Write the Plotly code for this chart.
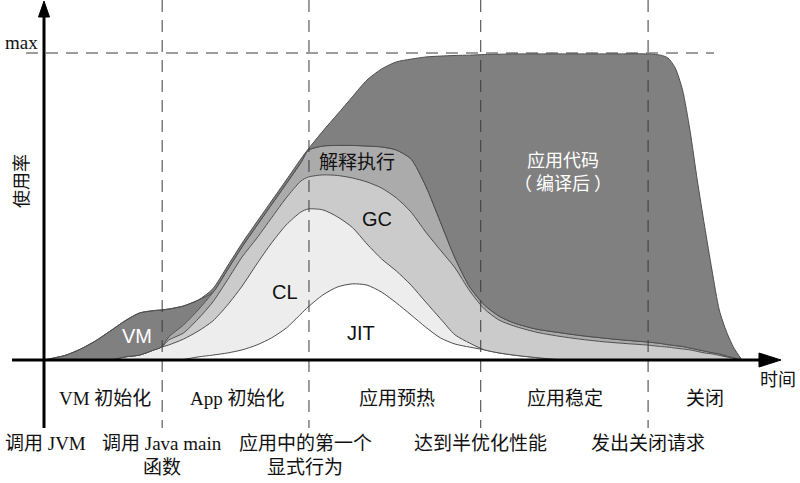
import plotly.graph_objects as go

# ---- data (time units, usage % of max) ----
t = [0, 1, 3, 5, 7, 9, 11, 13, 15, 16, 17, 19, 21, 23, 25, 27, 29, 31, 33, 35,
     36, 38, 40, 42, 44, 46, 48, 50, 52, 54, 56, 58, 60, 62, 64, 67, 70, 73, 76, 79,
     82, 84, 85, 86, 87, 88, 89, 90, 91, 92, 93, 94, 95]

# cumulative upper boundary of each layer
jit_top = [0, 0, 0, 0, 0, 0, 0, 0, 0, 0, 0, 0.2, 1.0, 1.6, 2.3, 3.3, 4.9, 7.2, 10.4, 15.0,
           17.3, 21.2, 23.8, 24.8, 24.4, 22.1, 18.6, 14.7, 10.7, 7.2, 5.2, 4.2, 3.3, 2.3, 1.6, 0.8, 0.15, 0, 0, 0,
           0, 0, 0, 0, 0, 0, 0, 0, 0, 0, 0, 0, 0]
cl_top = [0, 0, 0, 0, 0, 0, 1.0, 1.6, 3.3, 4.2, 4.9, 6.8, 9.4, 12.7, 17.9, 24.1, 31.3, 38.1, 44.0, 48.2,
          49.2, 48.9, 46.6, 43.2, 37.8, 32.9, 29.0, 24.4, 18.9, 13.5, 8.2, 5.5, 3.3, 2.3, 1.6, 0.8, 0.15, 0, 0, 0,
          0, 0, 0, 0, 0, 0, 0, 0, 0, 0, 0, 0, 0]
gc_top = [0, 0, 0, 0, 0, 0, 1.0, 1.6, 3.3, 4.2, 6.5, 8.8, 13.4, 18.9, 26.1, 33.6, 39.7, 46.3, 52.8, 58.3,
          59.6, 60.3, 60.1, 59.3, 58.0, 56.0, 52.8, 48.2, 41.7, 35.8, 30.0, 22.5, 16.6, 13.0, 11.1, 9.1, 7.8, 6.8, 6.0, 5.4,
          4.9, 4.4, 4.2, 3.9, 3.6, 3.3, 2.8, 2.3, 2.0, 1.5, 1.0, 0.5, 0]
interp_top = [0, 0, 0, 0, 0, 0, 1.0, 1.6, 3.3, 4.2, 7.5, 11.4, 16.3, 22.0, 29.4, 36.9, 43.8, 50.6, 57.4, 64.3,
              68.3, 69.7, 69.9, 69.9, 69.7, 69.4, 68.4, 65.5, 56.7, 45.0, 33.2, 23.8, 17.9, 14.3, 12.1, 10.1, 9.0, 8.0, 7.2, 6.5,
              5.9, 5.4, 5.0, 4.7, 4.4, 3.9, 3.4, 2.9, 2.4, 2.0, 1.3, 0.7, 0]
vm_top = [0, 0.5, 1.6, 3.6, 6.2, 9.4, 12.7, 15.3, 16.1, 16.3, 16.6, 17.6, 19.5, 22.0, 29.4, 36.9, 43.8, 50.6, 57.4, 64.3,
          68.3, 69.7, 69.9, 69.9, 69.7, 69.4, 68.4, 65.5, 56.7, 45.0, 33.2, 23.8, 17.9, 14.3, 12.1, 10.1, 9.0, 8.0, 7.2, 6.5,
          5.9, 5.4, 5.0, 4.7, 4.4, 3.9, 3.4, 2.9, 2.4, 2.0, 1.3, 0.7, 0]
app_top = [0, 0.5, 1.6, 3.6, 6.2, 9.4, 12.7, 15.3, 16.1, 16.3, 16.6, 17.6, 19.5, 23.2, 30.6, 38.1, 45.0, 51.8, 58.6, 65.5,
           68.7, 74.6, 80.1, 85.7, 91.2, 94.8, 97.1, 98.0, 98.7, 99.0, 99.2, 99.3, 99.5, 99.6, 99.7, 99.7, 99.7, 99.7, 99.7, 99.7,
           99.7, 99.3, 98.4, 95.1, 87.9, 74.9, 58.6, 43.6, 29.3, 16.3, 9.1, 3.9, 0.3]

layers = [
    ("JIT", jit_top, "#ffffff"),
    ("CL", cl_top, "#ededed"),
    ("GC", gc_top, "#cbcbcb"),
    ("解释执行", interp_top, "#ababab"),
    ("VM", vm_top, "#808080"),
    ("应用代码", app_top, "#808080"),
]

max_usage = 100
phase_marks = [16.1, 36.1, 59.5, 82.3]  # time of events (dashed lines)

phase_labels = ["VM 初始化", "App 初始化", "应用预热", "应用稳定", "关闭"]
event_labels = ["调用 JVM", "调用 Java main<br>函数", "应用中的第一个<br>显式行为", "达到半优化性能", "发出关闭请求"]

for arr in (jit_top, cl_top, gc_top, interp_top, vm_top, app_top):
    assert len(arr) == len(t)

W, H = 800, 483
X_PER_PX = 1 / 7.34
Y_PER_PX = 1 / 3.07
x0_px, y0_px = 44, 360


def px(x):
    return x / W


def py(y):
    return 1 - y / H


fig = go.Figure()
for i, (name, vals, col) in enumerate(layers):
    fig.add_trace(go.Scatter(
        x=t, y=vals, name=name, mode="lines",
        line=dict(color="#4d4d4d", width=1, shape="spline", smoothing=0.7),
        fill="tozeroy" if i == 0 else "tonexty",
        fillcolor=col, hoverinfo="skip", showlegend=False,
    ))

shapes = []
dash = "12px,8px"
# vertical dashed phase lines
for m in phase_marks:
    shapes.append(dict(type="line", xref="x", yref="paper", x0=m, x1=m,
                       y0=py(0), y1=py(428), line=dict(color="#3a3a3a", width=1, dash=dash),
                       layer="above"))
# max line
shapes.append(dict(type="line", xref="paper", yref="y", x0=px(26), x1=px(714),
                   y0=max_usage, y1=max_usage, line=dict(color="#3a3a3a", width=1, dash=dash),
                   layer="above"))
# axes
shapes.append(dict(type="line", xref="paper", yref="paper", x0=px(12), x1=px(764),
                   y0=py(360), y1=py(360), line=dict(color="#000", width=3), layer="above"))
shapes.append(dict(type="line", xref="paper", yref="paper", x0=px(44), x1=px(44),
                   y0=py(428), y1=py(12), line=dict(color="#000", width=3), layer="above"))
shapes.append(dict(type="path", xref="paper", yref="paper",
                   path=f"M {px(759)},{py(353)} L {px(781)},{py(360)} L {px(759)},{py(367)} Z",
                   fillcolor="#000", line=dict(color="#000", width=1), layer="above"))
shapes.append(dict(type="path", xref="paper", yref="paper",
                   path=f"M {px(38.5)},{py(17)} L {px(44)},{py(1)} L {px(49.5)},{py(17)} Z",
                   fillcolor="#000", line=dict(color="#000", width=1), layer="above"))

serif = "Liberation Serif, Noto Sans CJK SC"
sans = "Liberation Sans, Noto Sans CJK SC"
cjk = "Noto Sans CJK SC"

ann = []


def label(x, y, text, size=19, family=serif, color="#111", angle=0):
    ann.append(dict(x=px(x), y=py(y), xref="paper", yref="paper", text=text,
                    showarrow=False, xanchor="center", yanchor="middle",
                    font=dict(size=size, family=family, color=color), textangle=angle))


label(21, 43, "max")
label(22, 181, "使用率", size=18, angle=-90)
label(778, 380, "时间", size=18)

phase_x = [105, 237, 397, 565, 705]
for xx, txt in zip(phase_x, phase_labels):
    label(xx, 398, txt)

ev_x = [45, 162, 305, 480, 648]
for xx, txt in zip(ev_x, event_labels):
    if "<br>" in txt:
        a, b = txt.split("<br>")
        label(xx, 443, a)
        label(xx, 467, b)
    else:
        label(xx, 443, txt)

label(137, 336, "VM", size=20, family=sans, color="#ffffff")
label(285, 292, "CL", size=20, family=sans)
label(377, 219, "GC", size=20, family=sans)
label(361, 333, "JIT", size=20, family=sans)
label(357, 161, "解释执行", size=19, family=cjk)
label(563, 170, "应用代码<br>（ 编译后 ）", size=18, family=cjk, color="#ffffff")

fig.update_layout(
    width=W, height=H, margin=dict(l=0, r=0, t=0, b=0),
    paper_bgcolor="white", plot_bgcolor="white",
    xaxis=dict(visible=False, range=[-x0_px * X_PER_PX, (W - x0_px) * X_PER_PX], fixedrange=True),
    yaxis=dict(visible=False, range=[(y0_px - H) * Y_PER_PX, y0_px * Y_PER_PX], fixedrange=True),
    shapes=shapes, annotations=ann, hovermode=False, showlegend=False,
)

fig.write_html("out.html", config={"displayModeBar": False})
